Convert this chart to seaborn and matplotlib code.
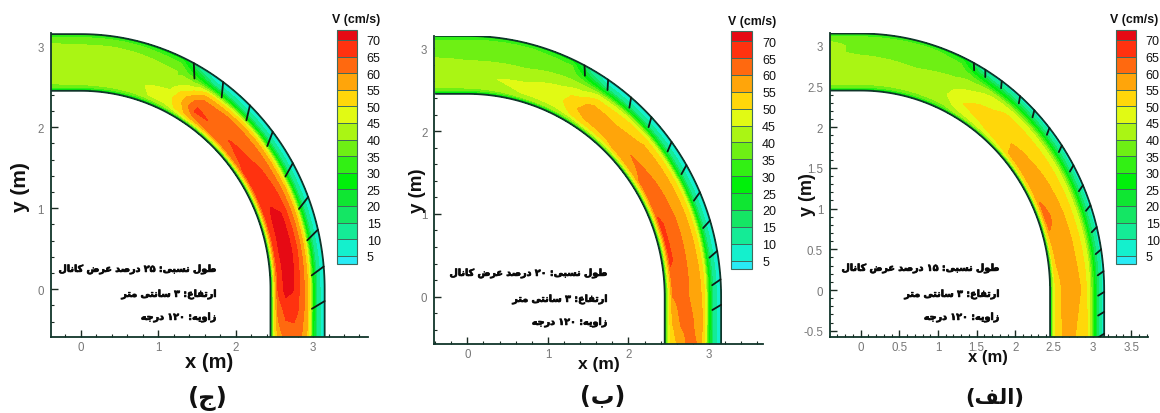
import re
import numpy as np
import matplotlib
matplotlib.use("Agg")
import matplotlib.pyplot as plt
import matplotlib.patheffects as pe
import seaborn as sns
from matplotlib.colors import ListedColormap, BoundaryNorm
from matplotlib.cm import ScalarMappable
from matplotlib.ticker import MultipleLocator, FormatStrFormatter

W, H = 1160, 414

# along the channel (deg, <0 and >90 are the straight reaches), across the channel (m)
theta_st = [-8, 0, 8, 15, 25, 30, 34, 42, 50, 60, 70, 80, 90, 95, 102]
r_st = [2.45, 2.47, 2.50, 2.55, 2.65, 2.75, 2.85, 2.92, 2.96, 3.00, 3.05, 3.10, 3.15]

v_25 = [
    [20, 28, 37, 41, 43, 43, 43, 43, 43, 42, 39, 36, 27],
    [20, 28, 38, 42, 44, 43, 43, 42, 42, 41, 38, 36, 27],
    [20, 28, 38, 43, 44, 43, 42, 42, 41, 41, 38, 36, 26],
    [20, 28, 38, 44, 44, 43, 41, 41, 41, 40, 38, 35, 25],
    [20, 28, 40, 46, 47, 44, 41, 40, 40, 39, 37, 33, 25],
    [20, 30, 44, 53, 56, 55, 48, 42, 38, 32, 24, 15, 10],
    [20, 32, 47, 58, 66, 64, 58, 50, 40, 28, 15, 9, 7],
    [20, 32, 48, 61, 64, 63, 60, 52, 44, 28, 14, 9, 7],
    [20, 32, 50, 64, 66, 63, 60, 54, 45, 28, 14, 9, 7],
    [20, 32, 50, 66, 67, 66, 61, 54, 45, 28, 14, 9, 7],
    [20, 32, 52, 68, 71, 70, 63, 56, 47, 29, 14, 9, 7],
    [20, 32, 52, 68, 72, 71, 64, 56, 48, 29, 14, 9, 7],
    [20, 32, 52, 66, 72, 70, 63, 57, 48, 29, 14, 9, 7],
    [20, 32, 50, 62, 67, 68, 63, 57, 47, 29, 14, 9, 7],
    [20, 32, 48, 57, 62, 62, 60, 55, 46, 28, 14, 9, 7],
]
v_20 = [
    [20, 28, 37, 42, 44, 43, 41, 39, 38, 38, 37, 35, 27],
    [20, 28, 38, 43, 44, 43, 40, 39, 38, 38, 37, 35, 27],
    [20, 28, 39, 44, 45, 43, 40, 39, 38, 38, 37, 35, 27],
    [20, 28, 40, 45, 46, 43, 40, 38, 38, 38, 37, 35, 27],
    [20, 28, 41, 46, 48, 47, 43, 40, 39, 38, 37, 33, 25],
    [20, 30, 42, 50, 54, 52, 46, 41, 37, 30, 22, 14, 10],
    [20, 31, 44, 53, 58, 57, 52, 46, 38, 27, 15, 9, 7],
    [20, 32, 45, 54, 58, 56, 52, 49, 42, 27, 14, 9, 7],
    [20, 32, 47, 58, 60, 57, 55, 50, 44, 27, 14, 9, 7],
    [20, 32, 48, 61, 62, 59, 56, 51, 45, 27, 14, 9, 7],
    [20, 32, 50, 66, 63, 60, 57, 52, 46, 28, 14, 9, 7],
    [20, 32, 50, 66, 63, 60, 57, 53, 46, 28, 14, 9, 7],
    [20, 32, 48, 60, 62, 60, 58, 54, 47, 29, 14, 9, 7],
    [20, 32, 48, 56, 61, 61, 59, 55, 47, 29, 14, 9, 7],
    [20, 32, 47, 52, 58, 61, 60, 54, 46, 28, 14, 9, 7],
]
v_15 = [
    [20, 28, 38, 42, 43, 43, 42, 41, 41, 41, 40, 37, 27],
    [20, 28, 38, 42, 43, 43, 41, 39, 39, 39, 39, 37, 27],
    [20, 28, 38, 42, 43, 42, 40, 38, 38, 38, 38, 36, 27],
    [20, 28, 38, 42, 43, 42, 39, 38, 38, 38, 38, 36, 26],
    [20, 28, 38, 43, 45, 44, 41, 39, 38, 38, 36, 33, 24],
    [20, 30, 42, 46, 50, 48, 44, 41, 38, 33, 25, 16, 11],
    [20, 31, 43, 48, 52, 50, 47, 44, 40, 31, 21, 12, 8],
    [20, 32, 45, 51, 53, 52, 51, 47, 42, 32, 20, 11, 8],
    [20, 32, 48, 56, 56, 53, 51, 48, 43, 33, 20, 11, 8],
    [20, 32, 50, 58, 58, 55, 52, 48, 44, 33, 20, 11, 8],
    [20, 32, 50, 62, 59, 56, 53, 48, 44, 33, 20, 11, 8],
    [20, 32, 50, 56, 58, 57, 53, 49, 45, 34, 20, 11, 8],
    [20, 32, 48, 53, 57, 57, 55, 50, 46, 34, 20, 11, 8],
    [20, 32, 47, 53, 57, 57, 54, 51, 46, 34, 20, 11, 8],
    [20, 32, 47, 53, 56, 56, 52, 52, 47, 34, 20, 11, 8],
]

spurs_25 = [27.6, 35.7, 43.9, 51.9, 60.4, 68.8, 76.5, 84.9, 93]
spurs_20 = [27.5, 33.7, 40.2, 46.5, 53.6, 59.7, 66.4, 73, 79.9, 86.2, 92]
spurs_15 = [27.7, 30.8, 35.4, 40.9, 45.5, 50.8, 55.7, 60.9, 65.9, 70.7, 75.8, 80.9, 85.8, 90.5, 95.5, 101]

v_levels = [2.5, 5, 10, 15, 20, 25, 30, 35, 40, 45, 50, 55, 60, 65, 70, 73]
v_ticks = [5, 10, 15, 20, 25, 30, 35, 40, 45, 50, 55, 60, 65, 70]
band_colors = ["#28ebf5", "#14f0cd", "#14eb96", "#14e664", "#0fe632", "#00f00a", "#32f014", "#6ef014",
               "#aaf514", "#e1fa14", "#ffd70a", "#ffa50a", "#ff690f", "#ff320f", "#e60a14"]

note_25 = ["طول نسبی: ۲۵ درصد عرض کانال", "ارتفاع: ۳ سانتی متر", "زاویه: ۱۲۰ درجه"]
note_20 = ["طول نسبی: ۲۰ درصد عرض کانال", "ارتفاع: ۳ سانتی متر", "زاویه: ۱۲۰ درجه"]
note_15 = ["طول نسبی: ۱۵ درصد عرض کانال", "ارتفاع: ۳ سانتی متر", "زاویه: ۱۲۰ درجه"]

# isolated, final, initial, medial presentation forms
FORMS = {
    "ا": (0xFE8D, 0xFE8E), "د": (0xFEA9, 0xFEAA), "ر": (0xFEAD, 0xFEAE),
    "ز": (0xFEAF, 0xFEB0), "و": (0xFEED, 0xFEEE),
    "ب": (0xFE8F, 0xFE90, 0xFE91, 0xFE92), "ت": (0xFE95, 0xFE96, 0xFE97, 0xFE98),
    "ج": (0xFE9D, 0xFE9E, 0xFE9F, 0xFEA0), "س": (0xFEB1, 0xFEB2, 0xFEB3, 0xFEB4),
    "ص": (0xFEB9, 0xFEBA, 0xFEBB, 0xFEBC), "ض": (0xFEBD, 0xFEBE, 0xFEBF, 0xFEC0),
    "ط": (0xFEC1, 0xFEC2, 0xFEC3, 0xFEC4), "ع": (0xFEC9, 0xFECA, 0xFECB, 0xFECC),
    "ف": (0xFED1, 0xFED2, 0xFED3, 0xFED4), "ک": (0xFB8E, 0xFB8F, 0xFB90, 0xFB91),
    "ل": (0xFEDD, 0xFEDE, 0xFEDF, 0xFEE0), "م": (0xFEE1, 0xFEE2, 0xFEE3, 0xFEE4),
    "ن": (0xFEE5, 0xFEE6, 0xFEE7, 0xFEE8), "ه": (0xFEE9, 0xFEEA, 0xFEEB, 0xFEEC),
    "ی": (0xFBFC, 0xFBFD, 0xFBFE, 0xFBFF),
}


def shape(text):
    # matplotlib has no shaping or bidi, so do it here
    out = []
    for i, c in enumerate(text):
        if c not in FORMS:
            out.append(c)
            continue
        prev = text[i - 1] if i > 0 else " "
        nxt = text[i + 1] if i < len(text) - 1 else " "
        joins_prev = prev in FORMS and len(FORMS[prev]) == 4
        joins_next = nxt in FORMS and len(FORMS[c]) == 4
        f = FORMS[c]
        if joins_prev and joins_next:
            g = f[3]
        elif joins_prev:
            g = f[1]
        elif joins_next:
            g = f[2]
        else:
            g = f[0]
        out.append(chr(g))
    vis = "".join(out)[::-1]
    vis = re.sub("[۰-۹]+", lambda m: m.group(0)[::-1], vis)
    return vis.translate(str.maketrans("()", ")("))


def to_xy(theta, r):
    theta = np.asarray(theta, dtype=float)
    r = np.asarray(r, dtype=float)
    t = np.radians(np.clip(theta, 0, 90))
    x = r * np.sin(t) + np.radians(np.minimum(theta, 0)) * 2.8
    y = r * np.cos(t) - np.radians(np.maximum(theta - 90, 0)) * 2.8
    return x, y


def px_axes(fig, left, top, right, bottom):
    return fig.add_axes([left / W, 1 - bottom / H, (right - left) / W, (bottom - top) / H])


def px_text(fig, x, y, s, **kw):
    kw.setdefault("ha", "center")
    kw.setdefault("va", "center")
    return fig.text(x / W, 1 - y / H, s, **kw)


def draw_panel(fig, values, spurs, spur_len, rect, xlim, ylim, major, minor, cbar_rect, opts):
    ax = px_axes(fig, *rect)
    # finer mesh along the bend so the bands follow the arc and not chords
    fine = np.arange(theta_st[0], theta_st[-1] + 0.5, 1.0)
    vals = np.array(values, dtype=float)
    vals_fine = np.column_stack([np.interp(fine, theta_st, vals[:, j]) for j in range(vals.shape[1])])
    tt, rr = np.meshgrid(fine, r_st, indexing="ij")
    xx, yy = to_xy(tt, rr)
    ax.contourf(xx, yy, vals_fine, levels=v_levels, colors=band_colors, zorder=1)

    # channel walls
    for r_wall in (r_st[0], r_st[-1]):
        wx, wy = to_xy(fine, np.full(len(fine), r_wall))
        sns.lineplot(x=wx, y=wy, sort=False, estimator=None, color="#10352a", lw=1.3, ax=ax, legend=False, zorder=3)

    # spur lines, 120 deg to the flow
    for s in spurs:
        bx, by = to_xy(s, r_st[-1])
        t = np.radians(min(s, 90))
        nx, ny = np.sin(t), np.cos(t)
        tx, ty = np.cos(t), -np.sin(t)
        dx = -np.cos(np.radians(30)) * nx + 0.5 * tx
        dy = -np.cos(np.radians(30)) * ny + 0.5 * ty
        sns.lineplot(x=[bx, bx + dx * spur_len], y=[by, by + dy * spur_len], sort=False, estimator=None,
                     color="#101a14", lw=1.3, ax=ax, legend=False, zorder=4)

    ax.set_xlim(*xlim)
    ax.set_ylim(*ylim)
    ax.set_xlabel("")
    ax.set_ylabel("")
    ax.xaxis.set_major_locator(MultipleLocator(major))
    ax.yaxis.set_major_locator(MultipleLocator(major))
    ax.xaxis.set_minor_locator(MultipleLocator(minor))
    ax.yaxis.set_minor_locator(MultipleLocator(minor))
    ax.xaxis.set_major_formatter(FormatStrFormatter("%g"))
    ax.yaxis.set_major_formatter(FormatStrFormatter("%g"))
    ax.tick_params(which="major", direction="in", length=5, width=1, color="#1a2a22", labelsize=8.3,
                   labelcolor="#777777", bottom=True, left=True)
    ax.tick_params(axis="x", which="major", pad=3)
    ax.tick_params(axis="y", which="major", pad=5)
    ax.tick_params(which="minor", direction="in", length=2.5, width=0.8, color="#1a2a22", bottom=True, left=True)
    sns.despine(ax=ax)
    for sp in ("left", "bottom"):
        ax.spines[sp].set_linewidth(1.3)
        ax.spines[sp].set_color("#10352a")
    ax.patch.set_alpha(0)

    # legend bar
    cax = px_axes(fig, *cbar_rect)
    cmap = ListedColormap(band_colors)
    norm = BoundaryNorm(v_levels, cmap.N)
    cb = fig.colorbar(ScalarMappable(norm=norm, cmap=cmap), cax=cax, spacing="proportional", drawedges=True,
                      ticks=v_ticks)
    cb.outline.set_edgecolor("#3f6a5c")
    cb.outline.set_linewidth(0.8)
    cb.dividers.set_color("#3f6a5c")
    cb.dividers.set_linewidth(0.7)
    cb.ax.tick_params(length=0, labelsize=9, pad=7, labelcolor="#111111")
    cb.ax.minorticks_off()
    px_text(fig, opts["vt"][0], opts["vt"][1], "V (cm/s)", fontsize=8.9, fontweight="bold", color="#111111")

    px_text(fig, opts["xl"][0], opts["xl"][1], "x (m)", fontsize=opts["xl"][2], fontweight="bold", color="#111111")
    px_text(fig, opts["yl"][0], opts["yl"][1], "y (m)", fontsize=opts["yl"][2], fontweight="bold", color="#111111",
            rotation=90)

    for line, yy_t in zip(opts["note"], opts["note_y"]):
        t = px_text(fig, opts["note_x"], yy_t, shape(line), ha="right", fontsize=6.9, fontweight="bold",
                    family="DejaVu Sans", color="#0a0a0a")
        t.set_path_effects([pe.withStroke(linewidth=0.5, foreground="#0a0a0a")])
    px_text(fig, opts["cap"][0], opts["cap"][1], shape(opts["cap"][2]), fontsize=opts["cap"][3], fontweight="bold",
            family="DejaVu Sans", color="#111111")


sns.set_style("white")
plt.rcParams["font.family"] = ["Liberation Sans", "DejaVu Sans"]

fig = plt.figure(figsize=(W / 100, H / 100), dpi=100)

draw_panel(fig, v_25, spurs_25, 0.19, (50.7, 33.5, 368, 338), (-0.39, 3.71), (-0.59, 3.17), 1, 0.2,
           (337, 31, 357, 265),
           dict(vt=(356, 20), xl=(209, 363, 14.5), yl=(20, 187, 15), note=note_25, note_x=217,
                note_y=(270, 295, 318), cap=(208, 399, "(ج)", 17.5)))
draw_panel(fig, v_20, spurs_20, 0.125, (434.3, 36.5, 763, 345), (-0.41, 3.67), (-0.571, 3.155), 1, 0.2,
           (731, 32, 752.3, 270),
           dict(vt=(752.5, 21.7), xl=(599, 365, 12.5), yl=(417, 191, 13.5), note=note_20, note_x=608,
                note_y=(274, 300, 323), cap=(603, 396, "(ب)", 17)))
draw_panel(fig, v_15, spurs_15, 0.09, (830, 34, 1148, 338.3), (-0.397, 3.717), (-0.581, 3.157), 0.5, 0.1,
           (1115.7, 31, 1136, 265),
           dict(vt=(1134.5, 20), xl=(988, 358, 12), yl=(808, 195, 13), note=note_15, note_x=1000,
                note_y=(269, 295, 318), cap=(995, 398, "(الف)", 15)))

fig.savefig("out.png", dpi=100)
